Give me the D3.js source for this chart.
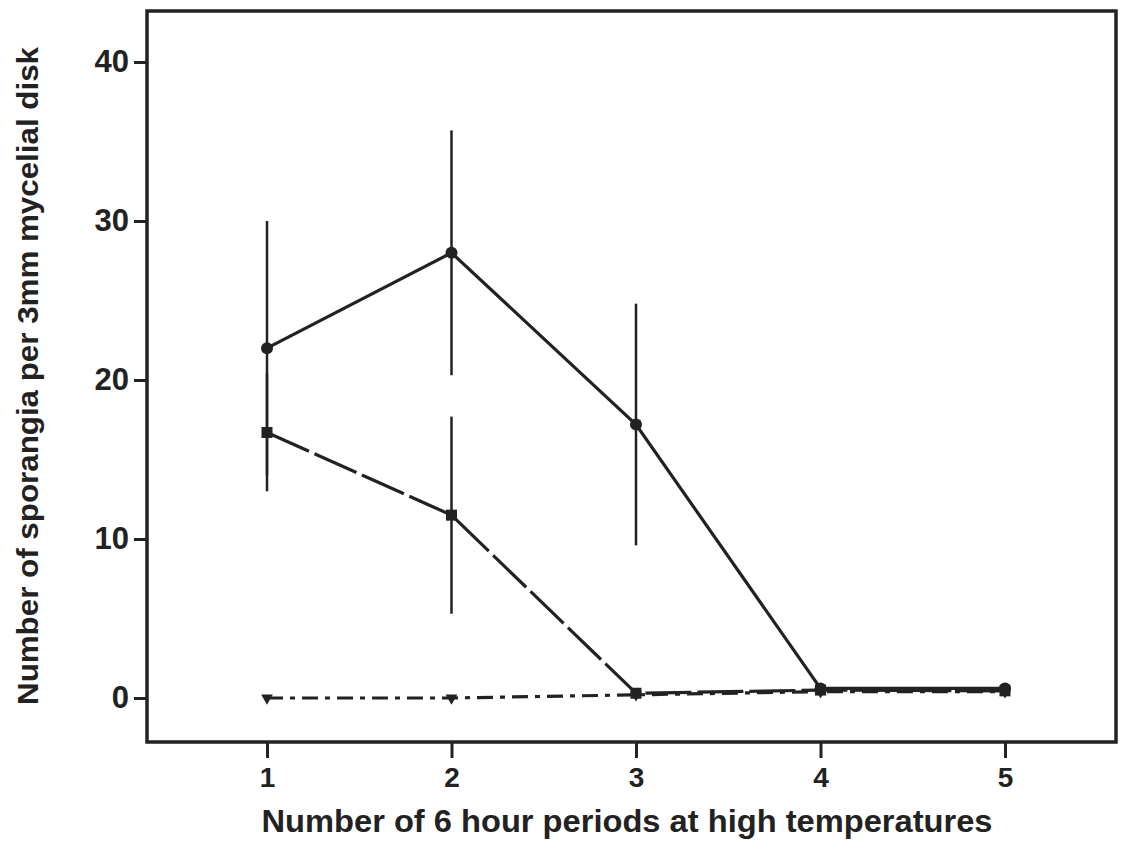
<!DOCTYPE html>
<html>
<head>
<meta charset="utf-8">
<script src="https://cdn.jsdelivr.net/npm/d3@7"></script>
<style>
  html, body { margin: 0; padding: 0; background: #fff; }
  svg { display: block; }
</style>
</head>
<body>
<svg id="chart" width="1129" height="842"></svg>
<script>
// Number of 6-hour periods at high temperature
const periods = [1, 2, 3, 4, 5];

// Sporangia counts per 3 mm disk, three treatments
const circleMean = [22, 28, 17.2, 0.6, 0.6];
const circleErr  = [8, 7.7, 7.6, null, null];

const squareMean = [16.7, 11.5, 0.3, 0.5, 0.45];
const squareErr  = [3.7, 6.2, null, null, null];

const triangleMean = [0, 0, 0.2, 0.4, 0.4];

const yTicks = [0, 10, 20, 30, 40];

const svg = d3.select("#chart");
const frame = { left: 147, top: 11, right: 1116, bottom: 742 };

const x = d3.scaleLinear().domain([1, 5]).range([267, 1005]);
const y = d3.scaleLinear().domain([0, 40]).range([698, 62]);

const ink = "#222";

// plot frame
svg.append("rect")
  .attr("x", frame.left).attr("y", frame.top)
  .attr("width", frame.right - frame.left)
  .attr("height", frame.bottom - frame.top)
  .attr("fill", "none").attr("stroke", ink).attr("stroke-width", 3.5);

// y axis (ticks point outward on the left)
const yAxis = d3.axisLeft(y).tickValues(yTicks).tickSize(13).tickPadding(5);
const gy = svg.append("g").attr("transform", `translate(${frame.left},0)`).call(yAxis);
gy.select(".domain").remove();
gy.selectAll(".tick line").attr("stroke", ink).attr("stroke-width", 3);
gy.selectAll(".tick text")
  .attr("fill", ink)
  .style("font-family", "'Liberation Sans', Arial, Helvetica, sans-serif")
  .style("font-weight", "bold")
  .style("font-size", "31px");

// x axis (ticks hang below the frame)
const xAxis = d3.axisBottom(x).tickValues(periods).tickFormat(d3.format("d")).tickSize(16).tickPadding(9);
const gx = svg.append("g").attr("transform", `translate(0,${frame.bottom})`).call(xAxis);
gx.select(".domain").remove();
gx.selectAll(".tick line").attr("stroke", ink).attr("stroke-width", 3);
gx.selectAll(".tick text")
  .attr("fill", ink)
  .style("font-family", "'Liberation Sans Narrow', 'Liberation Sans', Arial, sans-serif")
  .style("font-weight", "bold")
  .style("font-size", "28px");

// axis titles
svg.append("text")
  .attr("x", 627).attr("y", 832)
  .attr("text-anchor", "middle")
  .attr("textLength", 731)
  .attr("lengthAdjust", "spacingAndGlyphs")
  .attr("fill", ink)
  .style("font-family", "'Liberation Sans Narrow', 'Liberation Sans', Arial, sans-serif")
  .style("font-weight", "bold")
  .style("font-size", "31px")
  .text("Number of 6 hour periods at high  temperatures");

svg.append("text")
  .attr("transform", "translate(38,376) rotate(-90)")
  .attr("text-anchor", "middle")
  .attr("textLength", 658)
  .attr("lengthAdjust", "spacingAndGlyphs")
  .attr("fill", ink)
  .style("font-family", "'Liberation Sans', Arial, Helvetica, sans-serif")
  .style("font-weight", "bold")
  .style("font-size", "29px")
  .text("Number of sporangia per 3mm mycelial disk");

const plot = svg.append("g");

function errorBars(means, errs) {
  const rows = periods.map((p, i) => ({ p, m: means[i], e: errs[i] })).filter(d => d.e != null);
  plot.selectAll(null).data(rows).enter().append("line")
    .attr("x1", d => x(d.p)).attr("x2", d => x(d.p))
    .attr("y1", d => y(d.m + d.e)).attr("y2", d => y(d.m - d.e))
    .attr("stroke", ink).attr("stroke-width", 2.5);
}

function series(means, dash) {
  const pts = periods.map((p, i) => [p, means[i]]);
  plot.append("path")
    .datum(pts)
    .attr("d", d3.line().x(d => x(d[0])).y(d => y(d[1])))
    .attr("fill", "none").attr("stroke", ink).attr("stroke-width", 3.2)
    .attr("stroke-dasharray", dash);
  return pts;
}

errorBars(circleMean, circleErr);
errorBars(squareMean, squareErr);

const triPts = series(triangleMean, "16,7,5,7");
const sqPts = series(squareMean, "46,6");
const ciPts = series(circleMean, null);

plot.selectAll(null).data(triPts).enter().append("path")
  .attr("d", d3.symbol(d3.symbolTriangle, 60))
  .attr("fill", ink)
  .attr("transform", d => `translate(${x(d[0])},${y(d[1])}) rotate(180)`);

plot.selectAll(null).data(sqPts).enter().append("rect")
  .attr("x", d => x(d[0]) - 5.5).attr("y", d => y(d[1]) - 5.5)
  .attr("width", 11).attr("height", 11)
  .attr("fill", ink);

plot.selectAll(null).data(ciPts).enter().append("circle")
  .attr("cx", d => x(d[0])).attr("cy", d => y(d[1]))
  .attr("r", 6)
  .attr("fill", ink);
</script>
</body>
</html>
